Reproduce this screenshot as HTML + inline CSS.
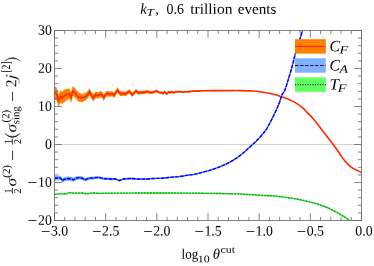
<!DOCTYPE html><html><head><meta charset="utf-8"><style>html,body{margin:0;padding:0;background:#fff}</style></head><body><svg width="374" height="266" viewBox="0 0 374 266" style="display:block"><rect width="374" height="266" fill="#fff"/><defs><clipPath id="c"><rect x="54.5" y="30.5" width="307.0" height="190.0"/></clipPath></defs><line x1="54.5" x2="361.5" y1="144.5" y2="144.5" stroke="#c8c8c8" stroke-width="0.8"/><g clip-path="url(#c)" fill="none" stroke-linejoin="round"><path d="M54.5,86.6 L56.2,87.2 L57.3,89.8 L58.5,94.5 L59.9,91.5 L60.9,89.9 L62.0,92.0 L63.1,90.4 L64.6,89.4 L66.7,89.0 L68.8,88.5 L70.1,90.0 L71.2,92.5 L72.7,86.2 L74.1,87.3 L75.7,89.0 L77.3,91.1 L78.8,92.8 L80.4,93.3 L82.6,94.0 L85.4,93.0 L87.3,91.8 L89.5,88.3 L91.5,92.0 L93.3,94.6 L95.6,91.5 L98.2,92.3 L100.6,91.1 L102.5,92.2 L103.8,95.1 L105.1,92.3 L107.0,90.7 L109.6,91.4 L112.1,91.3 L114.4,92.5 L116.0,89.7 L117.6,87.5 L119.2,90.2 L121.1,91.5 L123.7,91.2 L125.6,91.9 L127.3,90.4 L129.2,89.2 L130.7,90.7 L132.4,93.1 L133.9,91.1 L136.1,89.0 L137.8,90.7 L139.7,91.0 L141.7,90.5 L143.6,90.9 L146.6,90.0 L149.1,90.7 L151.7,91.1 L154.3,90.4 L156.6,89.5 L158.8,90.9 L161.3,91.5 L163.3,92.2 L164.5,90.4 L166.1,92.3 L167.1,92.7 L168.6,90.6 L170.3,91.7 L171.6,90.5 L173.3,91.5 L174.8,91.1 L177.4,90.8 L180.6,90.7 L183.2,91.3 L185.7,90.9 L188.3,90.8 L192.0,90.6 L202.6,90.3 L215.2,90.3 L227.8,90.6 L227.8,90.6 L215.2,90.9 L202.6,91.3 L192.0,92.0 L188.3,92.4 L185.7,92.7 L183.2,93.1 L180.6,92.5 L177.4,92.8 L174.8,93.3 L173.3,93.7 L171.6,92.7 L170.3,93.9 L168.6,93.0 L167.1,95.1 L166.1,94.7 L164.5,92.8 L163.3,94.8 L161.3,94.1 L158.8,93.5 L156.6,92.3 L154.3,93.2 L151.7,94.1 L149.1,93.7 L146.6,93.2 L143.6,94.3 L141.7,93.9 L139.7,94.6 L137.8,94.5 L136.1,92.8 L133.9,95.1 L132.4,97.1 L130.7,94.9 L129.2,93.4 L127.3,94.8 L125.6,96.3 L123.7,95.8 L121.1,96.3 L119.2,95.0 L117.6,92.5 L116.0,94.7 L114.4,97.7 L112.1,96.5 L109.6,96.8 L107.0,96.3 L105.1,97.9 L103.8,100.9 L102.5,98.0 L100.6,97.1 L98.2,98.5 L95.6,98.1 L93.3,101.4 L91.5,98.8 L89.5,95.3 L87.3,99.0 L85.4,100.4 L82.6,102.0 L80.4,101.9 L78.8,101.8 L77.3,100.3 L75.7,98.2 L74.1,96.7 L72.7,95.7 L71.2,103.1 L70.1,100.4 L68.8,98.7 L66.7,100.2 L64.6,102.0 L63.1,103.0 L62.0,104.6 L60.9,102.5 L59.9,104.1 L58.5,107.3 L57.3,102.6 L56.2,100.0 L54.5,99.4Z" fill="#ff8000" stroke="none"/><path d="M54.5,176.1 L57.3,175.7 L59.4,175.4 L60.9,176.2 L62.5,178.4 L64.1,177.2 L66.7,176.6 L69.4,176.4 L71.5,177.0 L73.6,177.8 L75.7,176.6 L78.3,175.9 L80.2,175.8 L82.8,176.8 L85.1,178.2 L87.3,177.3 L89.9,176.7 L93.1,176.6 L96.3,176.2 L98.0,176.0 L103.0,177.2 L110.6,177.8 L115.6,177.9 L119.4,179.6 L123.2,178.0 L130.7,177.6 L138.3,178.2 L145.9,178.3 L153.4,177.9 L161.0,177.8 L168.5,177.1 L176.1,176.5 L183.6,175.8 L188.7,174.9 L193.6,174.4 L193.6,174.6 L188.7,175.1 L183.6,176.2 L176.1,177.1 L168.5,177.9 L161.0,178.8 L153.4,179.1 L145.9,179.7 L138.3,179.8 L130.7,179.4 L123.2,180.0 L119.4,181.6 L115.6,180.1 L110.6,180.2 L103.0,179.8 L98.0,178.6 L96.3,179.0 L93.1,179.6 L89.9,179.7 L87.3,180.5 L85.1,181.4 L82.8,180.2 L80.2,179.4 L78.3,179.5 L75.7,180.4 L73.6,181.8 L71.5,181.2 L69.4,180.6 L66.7,181.0 L64.1,181.6 L62.5,182.8 L60.9,180.8 L59.4,180.0 L57.3,180.3 L54.5,180.9Z" fill="#80b0ff" stroke="none"/><path d="M54.5,93.0 L56.2,93.6 L57.3,96.2 L58.5,100.9 L59.9,97.8 L60.9,96.2 L62.0,98.3 L63.1,96.7 L64.6,95.7 L66.7,94.6 L68.8,93.6 L70.1,95.2 L71.2,97.8 L72.7,90.9 L74.1,92.0 L75.7,93.6 L77.3,95.7 L78.8,97.3 L80.4,97.6 L82.6,98.0 L85.4,96.7 L87.3,95.4 L89.5,91.8 L91.5,95.4 L93.3,98.0 L95.6,94.8 L98.2,95.4 L100.6,94.1 L102.5,95.1 L103.8,98.0 L105.1,95.1 L107.0,93.5 L109.6,94.1 L112.1,93.9 L114.4,95.1 L116.0,92.2 L117.6,90.0 L119.2,92.6 L121.1,93.9 L123.7,93.5 L125.6,94.1 L127.3,92.6 L129.2,91.3 L130.7,92.8 L132.4,95.1 L133.9,93.1 L136.1,90.9 L137.8,92.6 L139.7,92.8 L141.7,92.2 L143.6,92.6 L146.6,91.6 L149.1,92.2 L151.7,92.6 L154.3,91.8 L156.6,90.9 L158.8,92.2 L161.3,92.8 L163.3,93.5 L164.5,91.6 L166.1,93.5 L167.1,93.9 L168.6,91.8 L170.3,92.8 L171.6,91.6 L173.3,92.6 L174.8,92.2 L177.4,91.8 L180.6,91.6 L183.2,92.2 L185.7,91.8 L188.3,91.6 C188.9,91.5 189.6,91.4 192.0,91.3 C194.4,91.2 198.7,90.9 202.6,90.8 C206.5,90.7 211.0,90.6 215.2,90.6 C219.4,90.6 223.6,90.6 227.8,90.6 C232.0,90.6 236.2,90.5 240.4,90.6 C244.6,90.7 249.4,90.8 253.0,91.0 C256.6,91.2 259.4,91.7 262.0,92.1 C264.6,92.5 266.6,92.8 268.8,93.2 C271.1,93.7 273.2,94.2 275.5,94.8 C277.8,95.4 280.0,96.3 282.3,97.1 C284.6,97.9 286.9,98.5 289.1,99.5 C291.4,100.5 293.6,101.6 295.8,102.9 C298.0,104.2 300.6,106.1 302.4,107.6 C304.2,109.1 305.2,110.4 306.8,112.1 C308.4,113.8 310.4,115.5 312.2,117.5 C314.0,119.5 315.8,121.9 317.6,124.2 C319.4,126.5 321.2,128.9 323.0,131.3 C324.8,133.7 326.8,136.2 328.5,138.4 C330.2,140.6 331.7,142.5 333.1,144.3 C334.5,146.2 335.6,147.6 336.9,149.5 C338.2,151.4 339.5,153.7 340.9,155.6 C342.2,157.5 343.6,159.4 345.0,161.0 C346.4,162.6 347.8,164.2 349.1,165.4 C350.5,166.6 351.8,167.6 353.1,168.4 C354.5,169.2 355.8,169.7 357.2,170.4 C358.6,171.1 360.8,172.2 361.5,172.5" stroke="#ff2800" stroke-width="1.6"/><path d="M54.5,178.5 L57.3,178.0 L59.4,177.7 L60.9,178.5 L62.5,180.6 L64.1,179.4 L66.7,178.8 L69.4,178.5 L71.5,179.1 L73.6,179.8 L75.7,178.5 L78.3,177.7 L80.2,177.6 L82.8,178.5 L85.1,179.8 L87.3,178.9 L89.9,178.2 L93.1,178.1 L96.3,177.6 L98.0,177.3 L103.0,178.5 L110.6,179.0 L115.6,179.0 L119.4,180.6 L123.2,179.0 C124.5,178.9 128.2,178.5 130.7,178.5 C133.2,178.5 135.8,178.9 138.3,179.0 C140.8,179.1 143.4,179.1 145.9,179.0 C148.4,178.9 150.9,178.6 153.4,178.5 C155.9,178.4 158.5,178.5 161.0,178.3 C163.5,178.1 166.0,177.8 168.5,177.5 C171.0,177.2 173.6,177.1 176.1,176.8 C178.6,176.6 181.5,176.3 183.6,176.0 C185.7,175.7 187.0,175.2 188.7,175.0 C190.4,174.8 191.5,174.9 193.6,174.5 C195.7,174.1 198.6,173.3 201.1,172.7 C203.6,172.1 206.2,171.4 208.7,170.7 C211.2,169.9 213.7,169.1 216.2,168.2 C218.7,167.3 221.3,166.3 223.8,165.2 C226.3,164.1 228.8,162.9 231.3,161.4 C233.8,159.9 236.6,158.1 238.9,156.4 C241.2,154.7 243.1,153.1 245.2,151.3 C247.3,149.5 249.5,147.4 251.5,145.5 C253.5,143.6 255.0,142.5 257.3,140.0 C259.7,137.5 263.4,133.5 265.6,130.4 C267.8,127.3 268.9,124.8 270.6,121.6 C272.3,118.4 274.1,114.7 275.6,111.5 C277.1,108.3 278.3,105.4 279.4,102.7 C280.4,100.0 281.0,97.2 281.9,95.1 C282.8,93.0 283.7,92.8 284.8,90.2 C285.9,87.6 287.1,83.5 288.3,79.4 C289.6,75.3 291.2,69.9 292.3,65.8 C293.4,61.7 294.0,58.6 295.0,55.0 C296.0,51.4 297.4,47.1 298.3,44.2 C299.2,41.3 299.7,39.8 300.4,37.5 C301.1,35.2 302.2,31.7 302.6,30.5" stroke="#4878ff" stroke-width="1.35"/><path d="M54.5,178.5 L57.3,178.0 L59.4,177.7 L60.9,178.5 L62.5,180.6 L64.1,179.4 L66.7,178.8 L69.4,178.5 L71.5,179.1 L73.6,179.8 L75.7,178.5 L78.3,177.7 L80.2,177.6 L82.8,178.5 L85.1,179.8 L87.3,178.9 L89.9,178.2 L93.1,178.1 L96.3,177.6 L98.0,177.3 L103.0,178.5 L110.6,179.0 L115.6,179.0 L119.4,180.6 L123.2,179.0 C124.5,178.9 128.2,178.5 130.7,178.5 C133.2,178.5 135.8,178.9 138.3,179.0 C140.8,179.1 143.4,179.1 145.9,179.0 C148.4,178.9 150.9,178.6 153.4,178.5 C155.9,178.4 158.5,178.5 161.0,178.3 C163.5,178.1 166.0,177.8 168.5,177.5 C171.0,177.2 173.6,177.1 176.1,176.8 C178.6,176.6 181.5,176.3 183.6,176.0 C185.7,175.7 187.0,175.2 188.7,175.0 C190.4,174.8 191.5,174.9 193.6,174.5 C195.7,174.1 198.6,173.3 201.1,172.7 C203.6,172.1 206.2,171.4 208.7,170.7 C211.2,169.9 213.7,169.1 216.2,168.2 C218.7,167.3 221.3,166.3 223.8,165.2 C226.3,164.1 228.8,162.9 231.3,161.4 C233.8,159.9 236.6,158.1 238.9,156.4 C241.2,154.7 243.1,153.1 245.2,151.3 C247.3,149.5 249.5,147.4 251.5,145.5 C253.5,143.6 255.0,142.5 257.3,140.0 C259.7,137.5 263.4,133.5 265.6,130.4 C267.8,127.3 268.9,124.8 270.6,121.6 C272.3,118.4 274.1,114.7 275.6,111.5 C277.1,108.3 278.3,105.4 279.4,102.7 C280.4,100.0 281.0,97.2 281.9,95.1 C282.8,93.0 283.7,92.8 284.8,90.2 C285.9,87.6 287.1,83.5 288.3,79.4 C289.6,75.3 291.2,69.9 292.3,65.8 C293.4,61.7 294.0,58.6 295.0,55.0 C296.0,51.4 297.4,47.1 298.3,44.2 C299.2,41.3 299.7,39.8 300.4,37.5 C301.1,35.2 302.2,31.7 302.6,30.5" stroke="#0000f0" stroke-width="1.35" stroke-dasharray="3.6 1.2"/><path d="M54.6,194.3 L58.4,193.9 L62.3,193.9 L66.1,194.0 L69.3,192.6 L72.5,193.0 L77.7,193.2 L82.8,193.0 L86.7,193.9 L90.5,193.2 L95.6,193.0 L98.0,193.4 C102.2,193.3 108.3,193.2 123.0,193.1 C137.7,193.0 171.3,193.0 186.0,193.1 C200.7,193.2 202.8,193.3 211.2,193.4 C219.6,193.5 229.7,193.7 236.4,193.9 C243.1,194.1 246.5,194.4 251.5,194.7 C256.5,195.0 262.9,195.5 266.6,195.7 C270.4,195.9 271.1,195.7 274.0,195.9 C276.9,196.2 280.7,196.7 284.1,197.2 C287.5,197.7 290.9,198.1 294.2,198.7 C297.5,199.3 300.8,199.9 304.2,200.7 C307.6,201.4 310.9,202.2 314.3,203.2 C317.7,204.2 321.5,205.4 324.4,206.5 C327.3,207.6 329.3,208.5 331.9,209.8 C334.5,211.1 337.6,212.8 339.8,214.1 C342.0,215.4 343.3,216.2 345.1,217.4 C346.9,218.6 349.5,220.4 350.4,221.0" stroke="#48e048" stroke-width="1.35"/><path d="M54.6,194.3 L58.4,193.9 L62.3,193.9 L66.1,194.0 L69.3,192.6 L72.5,193.0 L77.7,193.2 L82.8,193.0 L86.7,193.9 L90.5,193.2 L95.6,193.0 L98.0,193.4 C102.2,193.3 108.3,193.2 123.0,193.1 C137.7,193.0 171.3,193.0 186.0,193.1 C200.7,193.2 202.8,193.3 211.2,193.4 C219.6,193.5 229.7,193.7 236.4,193.9 C243.1,194.1 246.5,194.4 251.5,194.7 C256.5,195.0 262.9,195.5 266.6,195.7 C270.4,195.9 271.1,195.7 274.0,195.9 C276.9,196.2 280.7,196.7 284.1,197.2 C287.5,197.7 290.9,198.1 294.2,198.7 C297.5,199.3 300.8,199.9 304.2,200.7 C307.6,201.4 310.9,202.2 314.3,203.2 C317.7,204.2 321.5,205.4 324.4,206.5 C327.3,207.6 329.3,208.5 331.9,209.8 C334.5,211.1 337.6,212.8 339.8,214.1 C342.0,215.4 343.3,216.2 345.1,217.4 C346.9,218.6 349.5,220.4 350.4,221.0" stroke="#00b000" stroke-width="1.35" stroke-dasharray="1.8 1.2"/></g><rect x="54.5" y="30.5" width="307.0" height="190.0" fill="none" stroke="#666" stroke-width="0.8"/><path d="M54.50,220.5v-7.4M54.50,30.5v7.4M64.73,220.5v-3.6M64.73,30.5v3.6M74.97,220.5v-3.6M74.97,30.5v3.6M85.20,220.5v-3.6M85.20,30.5v3.6M95.43,220.5v-3.6M95.43,30.5v3.6M105.67,220.5v-7.4M105.67,30.5v7.4M115.90,220.5v-3.6M115.90,30.5v3.6M126.13,220.5v-3.6M126.13,30.5v3.6M136.37,220.5v-3.6M136.37,30.5v3.6M146.60,220.5v-3.6M146.60,30.5v3.6M156.83,220.5v-7.4M156.83,30.5v7.4M167.07,220.5v-3.6M167.07,30.5v3.6M177.30,220.5v-3.6M177.30,30.5v3.6M187.53,220.5v-3.6M187.53,30.5v3.6M197.77,220.5v-3.6M197.77,30.5v3.6M208.00,220.5v-7.4M208.00,30.5v7.4M218.23,220.5v-3.6M218.23,30.5v3.6M228.47,220.5v-3.6M228.47,30.5v3.6M238.70,220.5v-3.6M238.70,30.5v3.6M248.93,220.5v-3.6M248.93,30.5v3.6M259.17,220.5v-7.4M259.17,30.5v7.4M269.40,220.5v-3.6M269.40,30.5v3.6M279.63,220.5v-3.6M279.63,30.5v3.6M289.87,220.5v-3.6M289.87,30.5v3.6M300.10,220.5v-3.6M300.10,30.5v3.6M310.33,220.5v-7.4M310.33,30.5v7.4M320.57,220.5v-3.6M320.57,30.5v3.6M330.80,220.5v-3.6M330.80,30.5v3.6M341.03,220.5v-3.6M341.03,30.5v3.6M351.27,220.5v-3.6M351.27,30.5v3.6M361.50,220.5v-7.4M361.50,30.5v7.4M54.5,220.50h7.4M361.5,220.50h-7.4M54.5,212.90h3.6M361.5,212.90h-3.6M54.5,205.30h3.6M361.5,205.30h-3.6M54.5,197.70h3.6M361.5,197.70h-3.6M54.5,190.10h3.6M361.5,190.10h-3.6M54.5,182.50h7.4M361.5,182.50h-7.4M54.5,174.90h3.6M361.5,174.90h-3.6M54.5,167.30h3.6M361.5,167.30h-3.6M54.5,159.70h3.6M361.5,159.70h-3.6M54.5,152.10h3.6M361.5,152.10h-3.6M54.5,144.50h7.4M361.5,144.50h-7.4M54.5,136.90h3.6M361.5,136.90h-3.6M54.5,129.30h3.6M361.5,129.30h-3.6M54.5,121.70h3.6M361.5,121.70h-3.6M54.5,114.10h3.6M361.5,114.10h-3.6M54.5,106.50h7.4M361.5,106.50h-7.4M54.5,98.90h3.6M361.5,98.90h-3.6M54.5,91.30h3.6M361.5,91.30h-3.6M54.5,83.70h3.6M361.5,83.70h-3.6M54.5,76.10h3.6M361.5,76.10h-3.6M54.5,68.50h7.4M361.5,68.50h-7.4M54.5,60.90h3.6M361.5,60.90h-3.6M54.5,53.30h3.6M361.5,53.30h-3.6M54.5,45.70h3.6M361.5,45.70h-3.6M54.5,38.10h3.6M361.5,38.10h-3.6M54.5,30.50h7.4M361.5,30.50h-7.4" stroke="#666" stroke-width="0.8" fill="none"/><g font-family="Liberation Serif, serif" fill="#000" stroke="#fff" stroke-width="0" style="filter:grayscale(1)"><line x1="41.9" x2="49.6" y1="231.5" y2="231.5" stroke="#000" stroke-width="0.8"/><text x="50.9" y="235.5" font-size="14.4px" transform="rotate(0.05 50.9 235.5)" textLength="17.3" lengthAdjust="spacingAndGlyphs">3.0</text><line x1="93.1" x2="100.8" y1="231.5" y2="231.5" stroke="#000" stroke-width="0.8"/><text x="102.1" y="235.5" font-size="14.4px" transform="rotate(0.05 102.1 235.5)" textLength="17.3" lengthAdjust="spacingAndGlyphs">2.5</text><line x1="144.2" x2="151.9" y1="231.5" y2="231.5" stroke="#000" stroke-width="0.8"/><text x="153.2" y="235.5" font-size="14.4px" transform="rotate(0.05 153.2 235.5)" textLength="17.3" lengthAdjust="spacingAndGlyphs">2.0</text><line x1="195.4" x2="203.1" y1="231.5" y2="231.5" stroke="#000" stroke-width="0.8"/><text x="204.4" y="235.5" font-size="14.4px" transform="rotate(0.05 204.4 235.5)" textLength="17.3" lengthAdjust="spacingAndGlyphs">1.5</text><line x1="246.6" x2="254.3" y1="231.5" y2="231.5" stroke="#000" stroke-width="0.8"/><text x="255.6" y="235.5" font-size="14.4px" transform="rotate(0.05 255.6 235.5)" textLength="17.3" lengthAdjust="spacingAndGlyphs">1.0</text><line x1="297.7" x2="305.4" y1="231.5" y2="231.5" stroke="#000" stroke-width="0.8"/><text x="306.7" y="235.5" font-size="14.4px" transform="rotate(0.05 306.7 235.5)" textLength="17.3" lengthAdjust="spacingAndGlyphs">0.5</text><text x="355.3" y="235.5" font-size="14.4px" transform="rotate(0.05 355.3 235.5)" textLength="17.3" lengthAdjust="spacingAndGlyphs">0.0</text><text x="51.8" y="34.8" font-size="14.4px" transform="rotate(0.05 51.8 34.8)" text-anchor="end" textLength="13.8" lengthAdjust="spacingAndGlyphs">30</text><text x="51.8" y="72.8" font-size="14.4px" transform="rotate(0.05 51.8 72.8)" text-anchor="end" textLength="13.8" lengthAdjust="spacingAndGlyphs">20</text><text x="51.8" y="110.8" font-size="14.4px" transform="rotate(0.05 51.8 110.8)" text-anchor="end" textLength="13.8" lengthAdjust="spacingAndGlyphs">10</text><text x="51.8" y="148.8" font-size="14.4px" transform="rotate(0.05 51.8 148.8)" text-anchor="end" textLength="6.9" lengthAdjust="spacingAndGlyphs">0</text><text x="51.8" y="186.8" font-size="14.4px" transform="rotate(0.05 51.8 186.8)" text-anchor="end" textLength="13.8" lengthAdjust="spacingAndGlyphs">10</text><line x1="28.4" x2="36.5" y1="182.5" y2="182.5" stroke="#000" stroke-width="0.8"/><text x="51.8" y="224.8" font-size="14.4px" transform="rotate(0.05 51.8 224.8)" text-anchor="end" textLength="13.8" lengthAdjust="spacingAndGlyphs">20</text><line x1="28.4" x2="36.5" y1="220.5" y2="220.5" stroke="#000" stroke-width="0.8"/><text x="140.2" y="13.7" font-size="15.2px" transform="rotate(0.05 140.2 13.7)" font-style="italic" textLength="6.6" lengthAdjust="spacingAndGlyphs">k</text><text x="146.4" y="15.8" font-size="10.3px" transform="rotate(0.05 146.4 15.8)" font-style="italic" textLength="7.4" lengthAdjust="spacingAndGlyphs">T</text><text x="155.2" y="13.7" font-size="14.7px" transform="rotate(0.05 155.2 13.7)">,</text><text x="166.5" y="13.7" font-size="14.7px" transform="rotate(0.05 166.5 13.7)" textLength="17.4" lengthAdjust="spacingAndGlyphs">0.6</text><text x="190.2" y="13.7" font-size="14.7px" transform="rotate(0.05 190.2 13.7)" textLength="42.2" lengthAdjust="spacingAndGlyphs">trillion</text><text x="237.7" y="13.7" font-size="14.7px" transform="rotate(0.05 237.7 13.7)" textLength="38.6" lengthAdjust="spacingAndGlyphs">events</text><text x="181.5" y="258.8" font-size="14.6px" transform="rotate(0.05 181.5 258.8)" textLength="16.7" lengthAdjust="spacingAndGlyphs">log</text><text x="197.8" y="262.2" font-size="10px" transform="rotate(0.05 197.8 262.2)" textLength="11.9" lengthAdjust="spacingAndGlyphs">10</text><text x="212.8" y="258.8" font-size="14.6px" transform="rotate(0.05 212.8 258.8)" font-style="italic" textLength="7.2" lengthAdjust="spacingAndGlyphs">θ</text><text x="220.5" y="252.8" font-size="10px" transform="rotate(0.05 220.5 252.8)" textLength="14.5" lengthAdjust="spacingAndGlyphs">cut</text><g transform="translate(0,194) rotate(-90)"><text x="0.6" y="11.5" font-size="10.5px" transform="rotate(0.05 0.6 11.5)" textLength="5" lengthAdjust="spacingAndGlyphs">1</text><text x="0.6" y="21" font-size="10.5px" transform="rotate(0.05 0.6 21)" textLength="5" lengthAdjust="spacingAndGlyphs">2</text><line x1="0" x2="6" y1="12.5" y2="12.5" stroke="#000" stroke-width="0.7"/><text x="7.4" y="16.2" font-size="15.5px" transform="rotate(0.05 7.4 16.2)" font-style="italic" textLength="8.6" lengthAdjust="spacingAndGlyphs" stroke-width="0.15">σ</text><text x="16.3" y="10" font-size="11px" transform="rotate(0.05 16.3 10)" textLength="12.6" lengthAdjust="spacingAndGlyphs">(2)</text><line x1="34.2" x2="43.4" y1="12.6" y2="12.6" stroke="#000" stroke-width="0.8"/><text x="49.9" y="11.5" font-size="10.5px" transform="rotate(0.05 49.9 11.5)" textLength="5" lengthAdjust="spacingAndGlyphs">1</text><text x="49.9" y="21" font-size="10.5px" transform="rotate(0.05 49.9 21)" textLength="5" lengthAdjust="spacingAndGlyphs">2</text><line x1="49.3" x2="55.3" y1="12.5" y2="12.5" stroke="#000" stroke-width="0.7"/><path d="M60.8,4.6 Q52.4,12.5 60.8,20.4 Q54.4,12.5 60.8,4.6Z" fill="#000" stroke="#000" stroke-width="0.3"/><text x="61.4" y="16.2" font-size="15.5px" transform="rotate(0.05 61.4 16.2)" font-style="italic" textLength="8.6" lengthAdjust="spacingAndGlyphs" stroke-width="0.15">σ</text><text x="71.6" y="9.2" font-size="11px" transform="rotate(0.05 71.6 9.2)" textLength="12.6" lengthAdjust="spacingAndGlyphs">(2)</text><text x="69.7" y="19.3" font-size="10.5px" transform="rotate(0.05 69.7 19.3)" textLength="18" lengthAdjust="spacingAndGlyphs">sing</text><line x1="93.1" x2="102.2" y1="12.6" y2="12.6" stroke="#000" stroke-width="0.8"/><text x="106.8" y="16.2" font-size="15.5px" transform="rotate(0.05 106.8 16.2)" textLength="7.8" lengthAdjust="spacingAndGlyphs" stroke-width="0.1">2</text><text x="113.5" y="16.2" font-size="15.5px" transform="rotate(0.05 113.5 16.2)" font-style="italic" textLength="7" lengthAdjust="spacingAndGlyphs" stroke-width="0.35">j</text><text x="121.4" y="9.9" font-size="12.5px" transform="rotate(0.05 121.4 9.9)" textLength="11.2" lengthAdjust="spacingAndGlyphs">[2]</text><path d="M133.0,4.6 Q140.2,12.5 133.0,20.4 Q137.9,12.5 133.0,4.6Z" fill="#000" stroke="#000" stroke-width="0.3"/></g><text x="329.6" y="51.3" font-size="15.8px" transform="rotate(0.05 329.6 51.3)" font-style="italic" textLength="10.6" lengthAdjust="spacingAndGlyphs">C</text><text x="339.6" y="53.6" font-size="11.2px" transform="rotate(0.05 339.6 53.6)" font-style="italic" textLength="8.8" lengthAdjust="spacingAndGlyphs">F</text><text x="329.6" y="70.4" font-size="15.8px" transform="rotate(0.05 329.6 70.4)" font-style="italic" textLength="10.6" lengthAdjust="spacingAndGlyphs">C</text><text x="339.6" y="72.7" font-size="11.2px" transform="rotate(0.05 339.6 72.7)" font-style="italic" textLength="8.4" lengthAdjust="spacingAndGlyphs">A</text><text x="329.6" y="89.5" font-size="15.8px" transform="rotate(0.05 329.6 89.5)" font-style="italic" textLength="9.4" lengthAdjust="spacingAndGlyphs">T</text><text x="337.8" y="91.8" font-size="11.2px" transform="rotate(0.05 337.8 91.8)" font-style="italic" textLength="8.8" lengthAdjust="spacingAndGlyphs">F</text></g><rect x="295" y="39.2" width="30.8" height="14.4" fill="#ff8000"/><line x1="295" x2="325.8" y1="46.4" y2="46.4" stroke="#ff2800" stroke-width="1.1"/><rect x="295" y="58.3" width="30.8" height="14.4" fill="#80b0ff"/><line x1="295" x2="325.8" y1="65.5" y2="65.5" stroke="#202040" stroke-width="1.1" stroke-dasharray="3.6 1.4"/><rect x="295" y="77.4" width="30.8" height="14.4" fill="#60ff60"/><line x1="295" x2="325.8" y1="84.6" y2="84.6" stroke="#103010" stroke-width="1.1" stroke-dasharray="1 1.5"/></svg></body></html>
